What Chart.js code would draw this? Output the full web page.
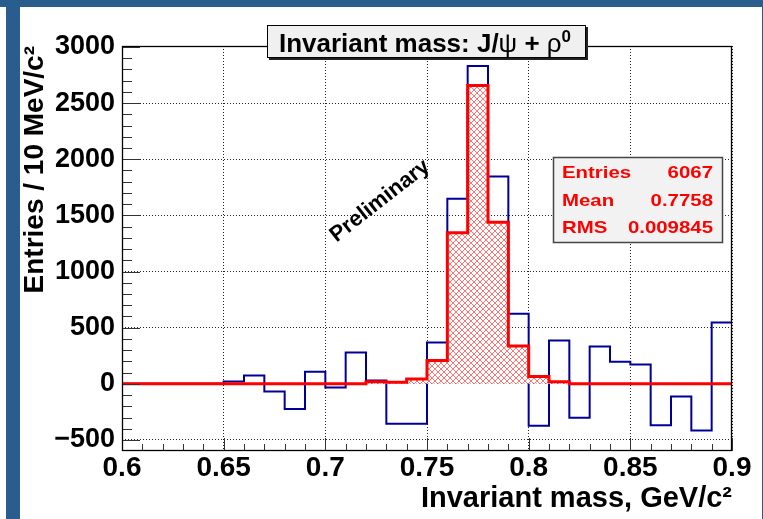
<!DOCTYPE html>
<html><head><meta charset="utf-8">
<script src="https://cdn.jsdelivr.net/npm/chart.js@4/dist/chart.umd.min.js"></script>
<style>
html,body{margin:0;padding:0;background:#fff;}
#wrap{position:relative;width:763px;height:519px;overflow:hidden;background:#fff;}
#c{position:absolute;left:0;top:0;}
.bar{position:absolute;background:#285d8e;}
</style></head><body>
<div id="wrap">
<canvas id="c" width="763" height="519"></canvas>
<div class="bar" style="left:0;top:0;width:763px;height:7px"></div>
<div class="bar" style="left:6px;top:0;width:14px;height:519px"></div>
<div class="bar" style="left:762px;top:0;width:1px;height:519px"></div>
</div>
<script>
// ---- data ----
const binEdges = [0.60,0.61,0.62,0.63,0.64,0.65,0.66,0.67,0.68,0.69,0.70,0.71,0.72,0.73,0.74,0.75,0.76,0.77,0.78,0.79,0.80,0.81,0.82,0.83,0.84,0.85,0.86,0.87,0.88,0.89,0.90];
const blueCounts = [0,0,0,0,0,20,75,-68,-225,107,-33,279,30,-356,-356,367,1649,2829,1845,623,-374,385,-302,332,196,172,-368,-113,-415,546];
const redCounts  = [0,0,0,0,0,0,0,0,0,0,0,0,18,15,44,207,1346,2657,1438,338,65,18,0,0,0,0,0,0,0,0];
const xTickValues = [0.6,0.65,0.7,0.75,0.8,0.85,0.9];
const xTickLabels = ['0.6','0.65','0.7','0.75','0.8','0.85','0.9'];
const yTickValues = [-500,0,500,1000,1500,2000,2500,3000];
const yTickLabels = ['\u2212500','0','500','1000','1500','2000','2500','3000'];
const xRange = [0.6, 0.9];
const yRange = [-598, 3008];
const titleText = ['Invariant mass: J/', '\u03C8', ' + ', '\u03C1', '0'];
const statLabels = ['Entries','Mean','RMS'];
const statValues = ['6067','0.7758','0.009845'];
const xAxisTitle = 'Invariant mass, GeV/c\u00B2';
const yAxisTitle = 'Entries / 10 MeV/c\u00B2';
const watermark = 'Preliminary';

const FONT = "'Liberation Sans', Arial, Helvetica, sans-serif";
Chart.defaults.font.family = FONT;
Chart.defaults.color = '#000';

function steps(counts){
  return binEdges.map((e,i)=>({x:e, y: counts[Math.min(i, counts.length-1)]}));
}

function hatch(){
  const n = 6;
  const c = document.createElement('canvas'); c.width = n; c.height = n;
  const g = c.getContext('2d');
  g.fillStyle = '#fff'; g.fillRect(0,0,n,n);
  g.strokeStyle = 'rgba(255,0,0,0.55)'; g.lineWidth = 1;
  g.beginPath();
  g.moveTo(0,0); g.lineTo(n,n); g.moveTo(0,n); g.lineTo(n,0);
  g.stroke();
  return g.createPattern(c,'repeat');
}

const rootDecor = {
  id: 'rootDecor',
  afterDatasetsDraw(chart){
    const {ctx, chartArea:a, scales:{x,y}} = chart;
    ctx.save();
    ctx.lineWidth = 1;
    ctx.beginPath();
    binEdges.forEach((v,i)=>{
      const px = Math.round(x.getPixelForValue(v)) + 0.5;
      const len = (i % 5 === 0) ? 13 : 7;
      ctx.moveTo(px, a.bottom); ctx.lineTo(px, a.bottom - len);
    });
    for (let v = yTickValues[0]; v <= yTickValues[yTickValues.length-1]; v += 100) {
      const py = Math.round(y.getPixelForValue(v)) + 0.5;
      const len = (v % 500 === 0) ? 18 : 10;
      ctx.moveTo(a.left, py); ctx.lineTo(a.left + len, py);
    }
    ctx.strokeStyle = '#333';
    ctx.stroke();
    ctx.strokeStyle = '#000';
    ctx.lineWidth = 1.3;
    ctx.strokeRect(Math.round(a.left)+0.5, Math.round(a.top)+0.5, Math.round(a.right-a.left)-1, Math.round(a.bottom-a.top)-1);
    ctx.restore();
  },
  afterDraw(chart){
    const ctx = chart.ctx;
    ctx.save();
    // title box
    const bx = 267, by = 25, bw = 319, bh = 33;
    ctx.fillStyle = '#222';
    ctx.fillRect(bx+2, by+2, bw, bh);
    ctx.fillStyle = '#f0f0f0';
    ctx.fillRect(bx, by, bw, bh);
    ctx.strokeStyle = '#000'; ctx.lineWidth = 1;
    ctx.strokeRect(bx+0.5, by+0.5, bw-1, bh-1);
    const fonts = ['bold 26px '+FONT, '26px '+FONT, 'bold 26px '+FONT, '26px '+FONT, 'bold 17px '+FONT];
    const dy = [0,0,0,0,-10];
    const widths = titleText.map((t,i)=>{ctx.font = fonts[i]; return ctx.measureText(t).width;});
    const total = widths.reduce((s,w)=>s+w,0);
    let tx = 425 - total/2;
    ctx.fillStyle = '#000'; ctx.textBaseline = 'alphabetic'; ctx.textAlign = 'left';
    titleText.forEach((t,i)=>{ ctx.font = fonts[i]; ctx.fillText(t, tx, 51.5 + dy[i]); tx += widths[i]; });
    // stats box
    const sx = 553, sy = 157, sw = 170, sh = 86;
    ctx.fillStyle = '#f2f2f2';
    ctx.fillRect(sx, sy, sw, sh);
    ctx.strokeStyle = '#444'; ctx.lineWidth = 1.5;
    ctx.strokeRect(sx+0.5, sy+0.5, sw-1, sh-1);
    ctx.fillStyle = '#ff0000';
    ctx.font = 'bold 17px '+FONT;
    const base = [178, 205.5, 233];
    statLabels.forEach((l,i)=>{
      ctx.save(); ctx.translate(562, base[i]); ctx.scale(1.2,1); ctx.textAlign='left'; ctx.fillText(l,0,0); ctx.restore();
      ctx.save(); ctx.translate(713, base[i]); ctx.scale(1.2,1); ctx.textAlign='right'; ctx.fillText(statValues[i],0,0); ctx.restore();
    });
    // watermark
    ctx.save();
    ctx.translate(380, 201);
    ctx.rotate(-38*Math.PI/180);
    ctx.fillStyle = '#000';
    ctx.font = 'bold 22px '+FONT;
    ctx.textAlign = 'center'; ctx.textBaseline = 'middle';
    ctx.fillText(watermark, 0, 0);
    ctx.restore();
    ctx.restore();
  }
};

const ctx = document.getElementById('c').getContext('2d');
new Chart(ctx, {
  type: 'line',
  data: {
    datasets: [
      { label: 'signal', data: steps(redCounts), stepped: 'before', borderColor: '#ff0000', borderWidth: 3,
        backgroundColor: hatch(), fill: 'origin', pointRadius: 0, order: 0, borderJoinStyle: 'miter', borderCapStyle: 'butt' },
      { label: 'all', data: steps(blueCounts), stepped: 'before', borderColor: '#000099', borderWidth: 2,
        fill: false, pointRadius: 0, order: 1, borderJoinStyle: 'miter' }
    ]
  },
  options: {
    responsive: false, animation: false, devicePixelRatio: 1,
    layout: { padding: { top: 46, right: 31, bottom: 0, left: 0 } },
    plugins: { legend: { display: false }, tooltip: { enabled: false }, title: { display: false } },
    scales: {
      x: {
        type: 'linear', min: xRange[0], max: xRange[1],
        afterBuildTicks: s => { s.ticks = xTickValues.map(v=>({value:v})); },
        afterFit: s => { s.height = 68; },
        ticks: { autoSkip: false, maxRotation: 0, padding: 0, font: { size: 28, weight: 'bold' },
          callback: (v,i) => xTickLabels[i] },
        grid: { drawTicks: false, color: '#222', lineWidth: 1 },
        border: { display: false, dash: [1,2] },
        title: { display: true, text: xAxisTitle, align: 'end', font: { size: 29, weight: 'bold' }, padding: { top: 0, bottom: 3 } }
      },
      y: {
        type: 'linear', min: yRange[0], max: yRange[1],
        afterBuildTicks: s => { s.ticks = yTickValues.map(v=>({value:v})); },
        afterFit: s => { s.width = 122; },
        ticks: { autoSkip: false, padding: 7, font: { size: 27, weight: 'bold' },
          callback: (v,i) => yTickLabels[i] },
        grid: { drawTicks: false, color: '#222', lineWidth: 1 },
        border: { display: false, dash: [1,2] },
        title: { display: true, text: yAxisTitle, align: 'end', font: { size: 28, weight: 'bold' }, padding: { top: 18, bottom: 0 } }
      }
    }
  },
  plugins: [rootDecor]
});
</script>
</body></html>
